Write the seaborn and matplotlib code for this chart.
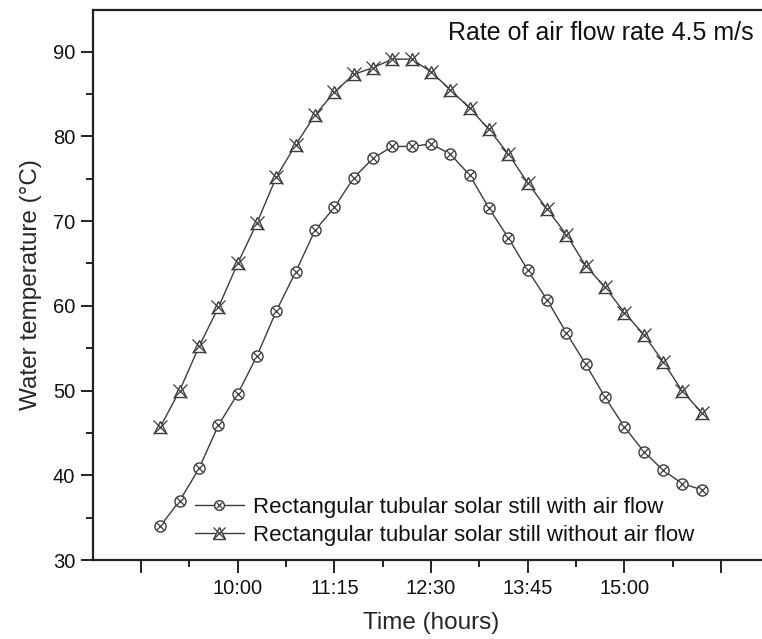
import matplotlib
matplotlib.use("Agg")
import matplotlib.pyplot as plt
import seaborn as sns
import pandas as pd
import numpy as np
from matplotlib.ticker import FixedLocator, MultipleLocator, FixedFormatter
from matplotlib.lines import Line2D

sns.set_style("ticks")
plt.rcParams['font.family'] = ['Liberation Sans', 'DejaVu Sans']

# time of day, minutes after midnight (9:00 .. 16:00 every 15 min)
times = [540, 555, 570, 585, 600, 615, 630, 645, 660, 675, 690, 705, 720, 735, 750,
         765, 780, 795, 810, 825, 840, 855, 870, 885, 900, 915, 930, 945, 960]
with_air = [34.0, 37.0, 40.8, 45.9, 49.6, 54.1, 59.4, 64.0, 68.9, 71.6, 75.1, 77.4,
            78.8, 78.8, 79.1, 77.9, 75.4, 71.5, 68.0, 64.2, 60.7, 56.8, 53.1, 49.2,
            45.7, 42.8, 40.6, 39.0, 38.3]
without_air = [45.7, 50.0, 55.2, 59.8, 65.0, 69.8, 75.2, 79.0, 82.5, 85.2, 87.3, 88.1,
               89.1, 89.1, 87.6, 85.5, 83.3, 80.8, 77.9, 74.5, 71.4, 68.4, 64.7, 62.2,
               59.2, 56.6, 53.4, 49.9, 47.4]
tick_pos = [525, 600, 675, 750, 825, 900, 975]
tick_labels = ["", "10:00", "11:15", "12:30", "13:45", "15:00", ""]
labels = ["Rectangular tubular solar still with air flow",
          "Rectangular tubular solar still without air flow"]

df = pd.DataFrame({"time": times, "with": with_air, "without": without_air})

fig = plt.figure(figsize=(7.62, 6.39), dpi=100)
ax = fig.add_axes([92.7/762, 1-560/639, 676.7/762, 550/639])

lc = "#3c3c3c"
sns.lineplot(data=df, x="time", y="with", ax=ax, color=lc, lw=1.0,
             marker="o", markersize=8, markerfacecolor="white",
             markeredgecolor=lc, markeredgewidth=1.0)
sns.lineplot(data=df, x="time", y="without", ax=ax, color=lc, lw=1.0,
             marker="^", markersize=9, markerfacecolor="white",
             markeredgecolor=lc, markeredgewidth=1.0)
ax.plot(df["time"], df["with"], ls="none", marker="x", markersize=5.5,
        color=lc, mew=0.9)
ax.plot(df["time"], df["without"], ls="none", marker="x", markersize=10,
        color=lc, mew=0.9)

ax.set_xlim(487.5, 1012.5)
ax.set_ylim(30, 94.9)
ax.xaxis.set_major_locator(FixedLocator(tick_pos))
ax.xaxis.set_major_formatter(FixedFormatter(tick_labels))
ax.xaxis.set_minor_locator(FixedLocator([p + 37.5 for p in tick_pos[:-1]]))
ax.yaxis.set_major_locator(MultipleLocator(10))
ax.yaxis.set_minor_locator(MultipleLocator(5))
ax.tick_params(which="major", direction="out", length=9, width=1.3,
               labelsize=14.5, colors="#111111")
ax.tick_params(which="minor", direction="out", length=5, width=1.3, colors="#111111")
ax.tick_params(axis="x", pad=5)
ax.set_xlabel("Time (hours)", fontsize=17.5, labelpad=10)
ax.set_ylabel("Water temperature (\u00b0C)", fontsize=17.5, labelpad=8)

for s in ["left", "bottom", "top"]:
    ax.spines[s].set_linewidth(1.6)
    ax.spines[s].set_color("#222222")
ax.spines["right"].set_visible(False)

ax.text(0.976, 0.958, "Rate of air flow rate 4.5 m/s", transform=ax.transAxes,
        ha="right", va="center", fontsize=18, color="#111111")

H1 = (Line2D([], [], color=lc, lw=1.0, marker="o", markersize=7, mfc="white", mec=lc),
      Line2D([], [], ls="none", marker="x", markersize=5, color=lc, mew=0.9))
H2 = (Line2D([], [], color=lc, lw=1.0, marker="^", markersize=8, mfc="white", mec=lc),
      Line2D([], [], ls="none", marker="x", markersize=9, color=lc, mew=0.9))
leg = ax.legend([H1, H2], labels, loc="lower left", bbox_to_anchor=(0.138, 0.01),
                frameon=False, fontsize=16, handlelength=2.2, handletextpad=0.4,
                labelspacing=0.3, borderaxespad=0)
for t in leg.get_texts():
    t.set_color("#111111")

fig.savefig("out.png", dpi=100)
